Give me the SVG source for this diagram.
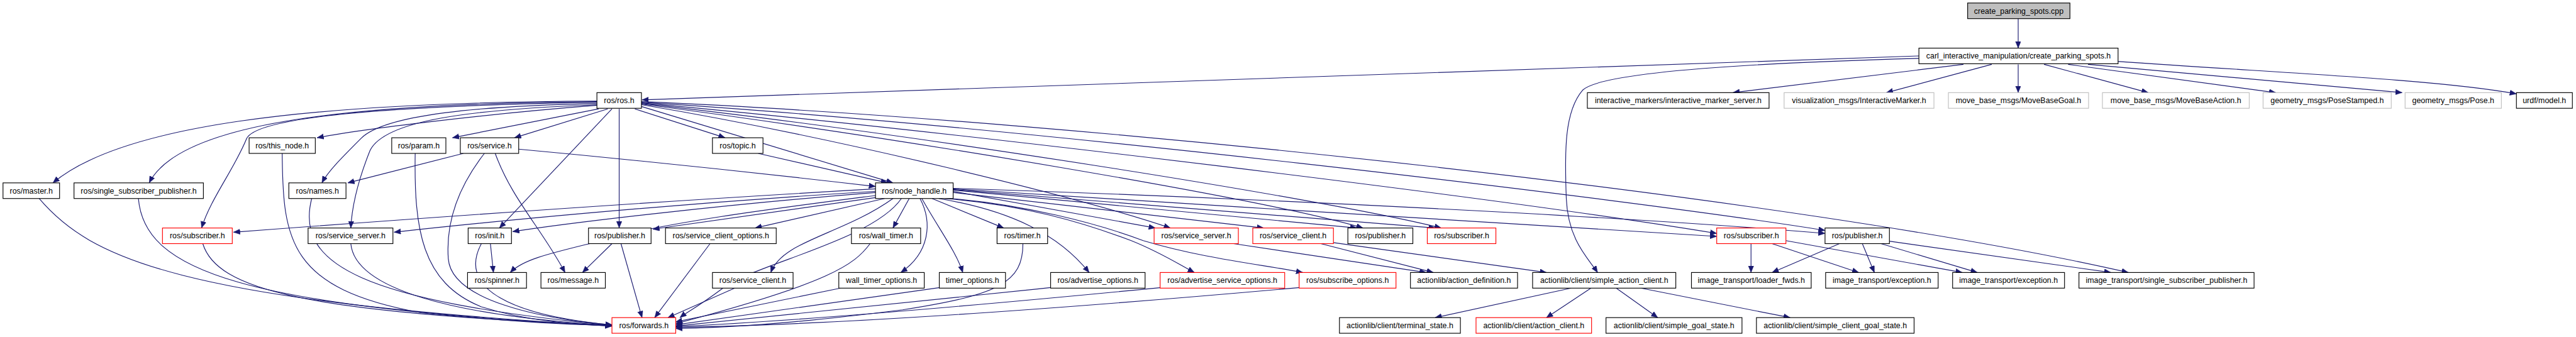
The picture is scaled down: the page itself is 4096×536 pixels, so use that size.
<svg xmlns="http://www.w3.org/2000/svg" width="4096" height="536" viewBox="0 0 4096 536">
<style>
.n rect{fill:#fff;stroke:#000;stroke-width:1.2}
.n.r rect{stroke:#f00}
.n.g rect{stroke:#bfbfbf}
.n.root rect{fill:#bfbfbf}
.n text{font-family:"Liberation Sans",Arial,sans-serif;font-size:13px;text-anchor:middle;fill:#000}
#edges path{fill:none;stroke:#191970;stroke-width:1.2;marker-end:url(#a)}
</style>
<defs>
<marker id="a" markerUnits="userSpaceOnUse" markerWidth="12" markerHeight="10" refX="11" refY="4.5" orient="auto">
<path d="M0,0 L11,4.5 L0,9 z" fill="#191970" stroke="#191970" stroke-width="0.5"/>
</marker>
</defs>
<rect width="4096" height="536" fill="#fff"/>
<g transform="scale(0.95678)">
<g id="edges">
<path d="M3354,31 L3354,80"/>
<path d="M3189,93 L1067,166"/>
<path d="M3189,97 C2900,105 2660,120 2630,150 C2600,185 2600,250 2603,330 C2606,400 2640,430 2655,453"/>
<path d="M3263,107 L2880,154"/>
<path d="M3310,107 L3135,154"/>
<path d="M3354,107 L3354,154"/>
<path d="M3397,107 L3570,154"/>
<path d="M3437,107 L3782,154"/>
<path d="M3470,107 L3992,154"/>
<path d="M3518,102 C3800,122 4050,132 4182,156"/>
<path d="M992,168 C500,170 200,210 88,304"/>
<path d="M992,169 C600,172 300,200 248,304"/>
<path d="M992,170 C700,175 430,190 410,230 C390,280 350,330 335,379"/>
<path d="M993,175 C800,190 600,215 527,229"/>
<path d="M992,172 C800,176 640,190 600,230 C570,260 545,285 535,304"/>
<path d="M993,174 C780,182 640,200 615,250 C595,300 585,340 583,379"/>
<path d="M995,181 L752,229"/>
<path d="M1010,181 L855,229"/>
<path d="M1017,181 L830,379"/>
<path d="M1029,181 L1029,379"/>
<path d="M1055,181 L1205,229"/>
<path d="M1066,177 L1484,304"/>
<path d="M1066,174 C1400,230 1800,330 1945,379"/>
<path d="M1066,173 C1500,230 2100,330 2265,379"/>
<path d="M1066,172 C1500,220 2200,330 2395,379"/>
<path d="M1066,171 C1600,220 2500,330 2853,388"/>
<path d="M1066,170 C1700,210 2700,330 3033,383"/>
<path d="M1066,169 C1800,200 3000,330 3537,453"/>
<path d="M770,255 L578,304"/>
<path d="M862,248 C1100,270 1300,292 1455,310"/>
<path d="M805,255 C770,300 740,360 745,430 C750,500 900,530 1017,540"/>
<path d="M823,255 C850,330 900,380 939,453"/>
<path d="M469,255 C470,400 480,480 700,520 C850,535 950,540 1017,541"/>
<path d="M690,255 C688,380 700,470 800,510 C880,535 960,540 1017,541"/>
<path d="M65,330 C150,430 300,500 1017,542"/>
<path d="M230,330 C240,450 400,510 1017,542"/>
<path d="M518,330 C490,440 600,500 1017,541"/>
<path d="M337,405 C360,480 500,520 1017,541"/>
<path d="M583,405 C590,480 750,525 1017,541"/>
<path d="M800,405 C760,480 850,525 1017,540"/>
<path d="M815,405 L820,453"/>
<path d="M1017,405 L968,453"/>
<path d="M1032,405 L1067,528"/>
<path d="M1180,405 L1088,528"/>
<path d="M1221,479 L1110,528"/>
<path d="M1397,479 L1123,535"/>
<path d="M1446,405 C1420,440 1380,470 1123,538"/>
<path d="M1562,478 L1123,540"/>
<path d="M1746,478 C1500,505 1250,530 1123,542"/>
<path d="M1930,478 C1600,510 1300,535 1123,543"/>
<path d="M2160,478 C1800,510 1400,540 1123,544"/>
<path d="M1700,405 C1700,470 1660,490 1500,515 C1300,540 1200,545 1123,546"/>
<path d="M1498,330 C1450,400 1250,440 1200,480 C1160,510 1140,520 1130,528"/>
<path d="M1455,314 C1000,340 600,370 388,386"/>
<path d="M1455,318 C1100,340 800,370 655,386"/>
<path d="M1456,320 C1200,340 950,370 852,385"/>
<path d="M1458,328 L1085,381"/>
<path d="M1470,330 L1255,379"/>
<path d="M1455,325 C1300,345 1100,370 1000,400 C920,420 870,430 848,453"/>
<path d="M1484,330 C1400,390 1300,400 1281,453"/>
<path d="M1511,330 L1484,379"/>
<path d="M1529,330 C1550,370 1545,420 1497,453"/>
<path d="M1532,330 C1560,380 1590,420 1600,453"/>
<path d="M1549,330 L1668,379"/>
<path d="M1560,330 C1680,350 1760,390 1810,453"/>
<path d="M1570,330 C1700,340 1800,370 1880,400 C1930,420 1960,440 1985,453"/>
<path d="M1580,330 C1700,340 1820,370 1900,400 C2000,430 2100,440 2165,453"/>
<path d="M1584,318 L1920,379"/>
<path d="M1584,320 L2100,379"/>
<path d="M1584,316 L2255,379"/>
<path d="M1584,315 L2385,379"/>
<path d="M1584,314 C2000,340 2500,372 2853,393"/>
<path d="M1584,313 C2100,330 2700,360 3033,388"/>
<path d="M1260,255 L1475,304"/>
<path d="M2050,405 L2370,453"/>
<path d="M2195,405 L2382,453"/>
<path d="M2214,403 L2570,453"/>
<path d="M2611,479 L2385,528"/>
<path d="M2644,479 L2570,528"/>
<path d="M2686,479 L2755,528"/>
<path d="M2727,479 L2975,528"/>
<path d="M2910,405 L2910,453"/>
<path d="M2945,405 L3089,453"/>
<path d="M2968,400 L3261,453"/>
<path d="M3057,405 L2945,453"/>
<path d="M3095,405 L3115,453"/>
<path d="M3126,405 L3286,453"/>
<path d="M3140,401 L3508,453"/>
</g>
<g id="n0" class="n root"><rect x="3270" y="5" width="170" height="26"/><text x="3355" y="22.5">create_parking_spots.cpp</text></g>
<g id="n1" class="n"><rect x="3189" y="80" width="331" height="26"/><text x="3354.5" y="97.5">carl_interactive_manipulation/create_parking_spots.h</text></g>
<g id="n2" class="n"><rect x="992" y="154" width="74" height="26"/><text x="1029" y="171.5">ros/ros.h</text></g>
<g id="n3" class="n"><rect x="2638" y="154" width="302" height="26"/><text x="2789" y="171.5">interactive_markers/interactive_marker_server.h</text></g>
<g id="n4" class="n g"><rect x="2965" y="154" width="249" height="26"/><text x="3089.5" y="171.5">visualization_msgs/InteractiveMarker.h</text></g>
<g id="n5" class="n g"><rect x="3238" y="154" width="233" height="26"/><text x="3354.5" y="171.5">move_base_msgs/MoveBaseGoal.h</text></g>
<g id="n6" class="n g"><rect x="3494" y="154" width="244" height="26"/><text x="3616" y="171.5">move_base_msgs/MoveBaseAction.h</text></g>
<g id="n7" class="n g"><rect x="3761" y="154" width="213" height="26"/><text x="3867.5" y="171.5">geometry_msgs/PoseStamped.h</text></g>
<g id="n8" class="n g"><rect x="3997" y="154" width="160" height="26"/><text x="4077" y="171.5">geometry_msgs/Pose.h</text></g>
<g id="n9" class="n"><rect x="4182" y="154" width="93" height="26"/><text x="4228.5" y="171.5">urdf/model.h</text></g>
<g id="n10" class="n"><rect x="414" y="229" width="110" height="26"/><text x="469" y="246.5">ros/this_node.h</text></g>
<g id="n11" class="n"><rect x="651" y="229" width="90" height="26"/><text x="696" y="246.5">ros/param.h</text></g>
<g id="n12" class="n"><rect x="765" y="229" width="97" height="26"/><text x="813.5" y="246.5">ros/service.h</text></g>
<g id="n13" class="n"><rect x="1184" y="229" width="84" height="26"/><text x="1226" y="246.5">ros/topic.h</text></g>
<g id="n14" class="n"><rect x="5" y="304" width="94" height="26"/><text x="52" y="321.5">ros/master.h</text></g>
<g id="n15" class="n"><rect x="123" y="304" width="215" height="26"/><text x="230.5" y="321.5">ros/single_subscriber_publisher.h</text></g>
<g id="n16" class="n"><rect x="480" y="304" width="95" height="26"/><text x="527.5" y="321.5">ros/names.h</text></g>
<g id="n17" class="n"><rect x="1455" y="304" width="129" height="26"/><text x="1519.5" y="321.5">ros/node_handle.h</text></g>
<g id="n18" class="n r"><rect x="270" y="379" width="116" height="26"/><text x="328" y="396.5">ros/subscriber.h</text></g>
<g id="n19" class="n"><rect x="512" y="379" width="141" height="26"/><text x="582.5" y="396.5">ros/service_server.h</text></g>
<g id="n20" class="n"><rect x="778" y="379" width="72" height="26"/><text x="814" y="396.5">ros/init.h</text></g>
<g id="n21" class="n"><rect x="978" y="379" width="104" height="26"/><text x="1030" y="396.5">ros/publisher.h</text></g>
<g id="n22" class="n"><rect x="1106" y="379" width="184" height="26"/><text x="1198" y="396.5">ros/service_client_options.h</text></g>
<g id="n23" class="n"><rect x="1415" y="379" width="115" height="26"/><text x="1472.5" y="396.5">ros/wall_timer.h</text></g>
<g id="n24" class="n"><rect x="1657" y="379" width="84" height="26"/><text x="1699" y="396.5">ros/timer.h</text></g>
<g id="n25" class="n r"><rect x="1918" y="379" width="140" height="26"/><text x="1988" y="396.5">ros/service_server.h</text></g>
<g id="n26" class="n r"><rect x="2082" y="379" width="134" height="26"/><text x="2149" y="396.5">ros/service_client.h</text></g>
<g id="n27" class="n"><rect x="2240" y="379" width="108" height="26"/><text x="2294" y="396.5">ros/publisher.h</text></g>
<g id="n28" class="n r"><rect x="2372" y="379" width="114" height="26"/><text x="2429" y="396.5">ros/subscriber.h</text></g>
<g id="n29" class="n r"><rect x="2853" y="379" width="115" height="26"/><text x="2910.5" y="396.5">ros/subscriber.h</text></g>
<g id="n30" class="n"><rect x="3033" y="379" width="107" height="26"/><text x="3086.5" y="396.5">ros/publisher.h</text></g>
<g id="n31" class="n"><rect x="777" y="453" width="98" height="26"/><text x="826" y="470.5">ros/spinner.h</text></g>
<g id="n32" class="n"><rect x="899" y="453" width="107" height="26"/><text x="952.5" y="470.5">ros/message.h</text></g>
<g id="n33" class="n"><rect x="1184" y="453" width="134" height="26"/><text x="1251" y="470.5">ros/service_client.h</text></g>
<g id="n34" class="n"><rect x="1394" y="453" width="142" height="26"/><text x="1465" y="470.5">wall_timer_options.h</text></g>
<g id="n35" class="n"><rect x="1561" y="453" width="110" height="26"/><text x="1616" y="470.5">timer_options.h</text></g>
<g id="n36" class="n"><rect x="1746" y="453" width="157" height="26"/><text x="1824.5" y="470.5">ros/advertise_options.h</text></g>
<g id="n37" class="n r"><rect x="1928" y="453" width="207" height="26"/><text x="2031.5" y="470.5">ros/advertise_service_options.h</text></g>
<g id="n38" class="n r"><rect x="2159" y="453" width="161" height="26"/><text x="2239.5" y="470.5">ros/subscribe_options.h</text></g>
<g id="n39" class="n"><rect x="2344" y="453" width="178" height="26"/><text x="2433" y="470.5">actionlib/action_definition.h</text></g>
<g id="n40" class="n"><rect x="2547" y="453" width="238" height="26"/><text x="2666" y="470.5">actionlib/client/simple_action_client.h</text></g>
<g id="n41" class="n"><rect x="2811" y="453" width="199" height="26"/><text x="2910.5" y="470.5">image_transport/loader_fwds.h</text></g>
<g id="n42" class="n"><rect x="3034" y="453" width="187" height="26"/><text x="3127.5" y="470.5">image_transport/exception.h</text></g>
<g id="n43" class="n"><rect x="3245" y="453" width="186" height="26"/><text x="3338" y="470.5">image_transport/exception.h</text></g>
<g id="n44" class="n"><rect x="3455" y="453" width="291" height="26"/><text x="3600.5" y="470.5">image_transport/single_subscriber_publisher.h</text></g>
<g id="n45" class="n r"><rect x="1017" y="528" width="106" height="26"/><text x="1070" y="545.5">ros/forwards.h</text></g>
<g id="n46" class="n"><rect x="2226" y="528" width="201" height="26"/><text x="2326.5" y="545.5">actionlib/client/terminal_state.h</text></g>
<g id="n47" class="n r"><rect x="2453" y="528" width="192" height="26"/><text x="2549" y="545.5">actionlib/client/action_client.h</text></g>
<g id="n48" class="n"><rect x="2669" y="528" width="226" height="26"/><text x="2782" y="545.5">actionlib/client/simple_goal_state.h</text></g>
<g id="n49" class="n"><rect x="2919" y="528" width="262" height="26"/><text x="3050" y="545.5">actionlib/client/simple_client_goal_state.h</text></g>
</g>
</svg>
